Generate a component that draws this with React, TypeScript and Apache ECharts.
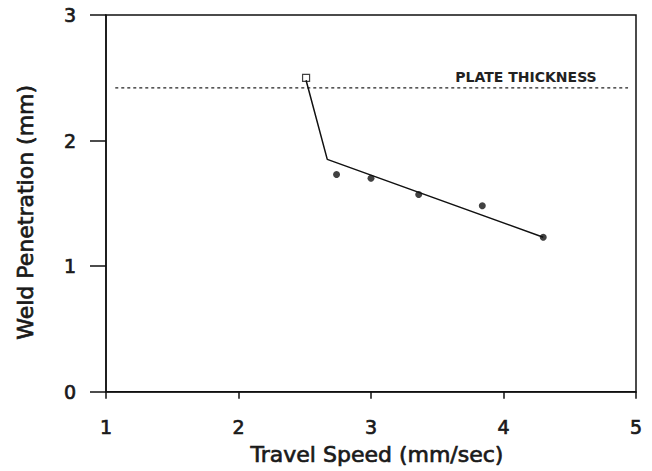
import React, { useEffect, useRef } from "react";
import * as echarts from "echarts";

const xTicks = [1, 2, 3, 4, 5];
const yTicks = [0, 1, 2, 3];
const measuredPoints: [number, number][] = [
  [2.74, 1.73],
  [3.0, 1.7],
  [3.36, 1.57],
  [3.84, 1.48],
  [4.3, 1.23],
];
const fullPenetration: [number, number][] = [[2.51, 2.5]];
const fitLine: [number, number][] = [
  [2.51, 2.48],
  [2.67, 1.85],
  [4.3, 1.23],
];
const plateThickness = 2.42;
const plateLine: [number, number][] = [
  [1.07, plateThickness],
  [4.94, plateThickness],
];

export default function App() {
  const ref = useRef<HTMLDivElement>(null);
  useEffect(() => {
    if (!ref.current) return;
    const chart = echarts.init(ref.current, undefined, { renderer: "svg" });
    const font = "'DejaVu Sans', Verdana, sans-serif";
    const ink = "#1a1a1a";
    const thick = { textBorderColor: ink, textBorderWidth: 0.7 };
    chart.setOption({
      animation: false,
      backgroundColor: "#fff",
      grid: {
        left: 106,
        right: 16,
        top: 15,
        bottom: 78,
        show: true,
        borderColor: "#111",
        borderWidth: 1.5,
      },
      xAxis: {
        type: "value",
        min: xTicks[0],
        max: xTicks[xTicks.length - 1],
        interval: 1,
        name: "Travel Speed (mm/sec)",
        nameLocation: "middle",
        nameGap: 52,
        nameTextStyle: {
          fontFamily: font,
          fontSize: 22,
          color: ink,
          ...thick,
          padding: [0, 0, 0, 12],
        },
        axisLine: { show: true, lineStyle: { color: "#111", width: 1.5 } },
        axisTick: { show: true, length: 7, lineStyle: { color: "#111", width: 1.5 } },
        axisLabel: { margin: 26, fontFamily: font, fontSize: 19, color: ink, ...thick },
        splitLine: { show: false },
      },
      yAxis: {
        type: "value",
        min: yTicks[0],
        max: yTicks[yTicks.length - 1],
        interval: 1,
        name: "Weld Penetration (mm)",
        nameLocation: "middle",
        nameGap: 70,
        nameTextStyle: {
          fontFamily: font,
          fontSize: 22,
          color: ink,
          ...thick,
          padding: [0, 18, 0, 0],
        },
        axisLine: { show: true, lineStyle: { color: "#111", width: 1.5 } },
        axisTick: { show: true, length: 16, lineStyle: { color: "#111", width: 1.5 } },
        axisLabel: { margin: 30, fontFamily: font, fontSize: 19, color: ink, ...thick },
        splitLine: { show: false },
      },
      series: [
        {
          type: "line",
          data: plateLine,
          symbol: "none",
          lineStyle: { color: "#222", width: 1.3, type: [3, 3] },
          markPoint: {
            symbol: "rect",
            symbolSize: 0,
            data: [{ coord: [4.17, 2.51] }],
            label: {
              show: true,
              formatter: "PLATE THICKNESS",
              fontFamily: font,
              fontSize: 14,
              fontWeight: "bold",
              color: "#222",
            },
          },
        },
        {
          type: "line",
          data: fitLine,
          symbol: "none",
          lineStyle: { color: "#111", width: 1.5 },
        },
        {
          type: "scatter",
          data: measuredPoints,
          symbol: "circle",
          symbolSize: 7,
          itemStyle: { color: "#111" },
        },
        {
          type: "scatter",
          data: fullPenetration,
          symbol: "rect",
          symbolSize: 7,
          itemStyle: { color: "#fff", borderColor: "#111", borderWidth: 1.2 },
        },
      ],
    });
    return () => chart.dispose();
  }, []);
  return <div ref={ref} style={{ width: 652, height: 471, position: "absolute", left: 0, top: 0 }} />;
}
